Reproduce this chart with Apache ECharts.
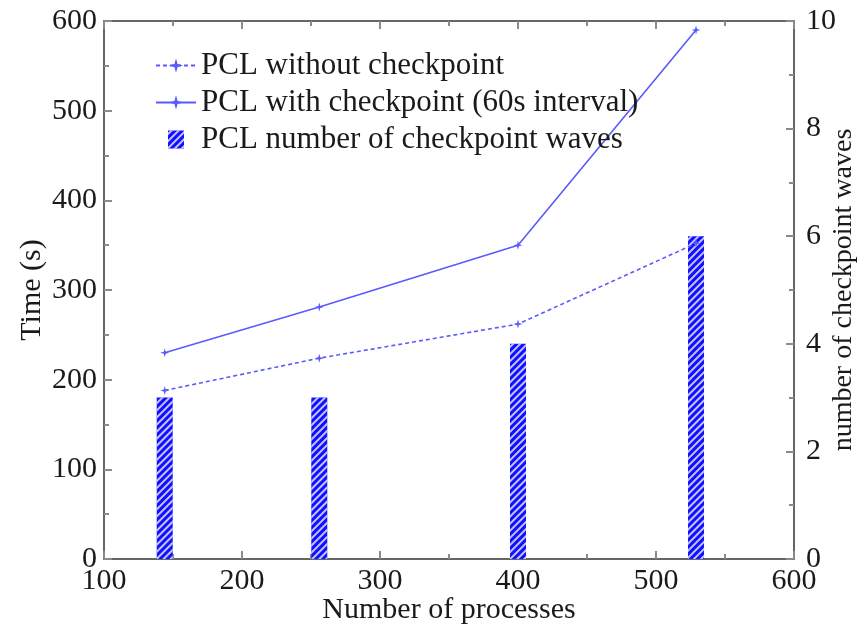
<!DOCTYPE html>
<html>
<head>
<meta charset="utf-8">
<script src="https://cdn.jsdelivr.net/npm/echarts@6/dist/echarts.min.js"></script>
<style>
html,body{margin:0;padding:0;background:#fff;}
#chart{width:859px;height:629px;}
</style>
</head>
<body>
<div id="chart"></div>
<script>
// Data
var processes = [144, 256, 400, 529];
var timeWithout = [188, 224, 262, 352];
var timeWith = [230, 281, 350, 590];
var waves = [3, 3, 4, 6];

var seriesNames = [
  'PCL without checkpoint',
  'PCL with checkpoint (60s interval)',
  'PCL number of checkpoint waves'
];

function pairs(xs, ys) {
  return xs.map(function (x, i) { return [x, ys[i]]; });
}

var FONT = 'Liberation Serif';
var TXT = '#1a1a1a';
var LINE = '#5a5aff';
var AXIS = '#666';
var TICK = '#8a8a8a';
var star = 'path://M0,-1 L0.22,-0.22 L1,0 L0.22,0.22 L0,1 L-0.22,0.22 L-1,0 L-0.22,-0.22 Z';

var chart = echarts.init(document.getElementById('chart'), null, {renderer: 'canvas'});

var baseAxis = {
  axisLine: {show: true, onZero: false, lineStyle: {color: AXIS, width: 2}},
  axisTick: {show: true, inside: true, length: 8, lineStyle: {color: TICK, width: 2}},
  minorTick: {show: true, splitNumber: 2, length: 5, lineStyle: {color: TICK, width: 2}},
  splitLine: {show: false},
  nameMoveOverlap: false,
  axisLabel: {color: TXT, fontFamily: FONT, fontSize: 30},
  nameTextStyle: {color: TXT, fontFamily: FONT, fontSize: 30}
};

function ax(extra) {
  return echarts.util.merge(echarts.util.clone(baseAxis), extra, true);
}

chart.setOption({
  animation: false,
  backgroundColor: '#fff',
  grid: {left: 104, right: 65, top: 21, bottom: 70, containLabel: false, outerBoundsMode: 'none'},
  legend: {
    orient: 'vertical',
    left: 150,
    top: 45,
    itemWidth: 40,
    itemHeight: 18,
    itemGap: 6,
    textStyle: {color: TXT, fontFamily: FONT, fontSize: 31, lineHeight: 30},
    data: [
      {name: seriesNames[0]},
      {name: seriesNames[1]},
      {name: seriesNames[2], icon: 'path://M0,0 L16,0 L16,18 L0,18 Z'}
    ]
  },
  xAxis: [
    ax({
      type: 'value', position: 'bottom', min: 100, max: 600, interval: 100,
      name: 'Number of processes', nameLocation: 'middle', nameGap: 36,
      axisLabel: {margin: 7}
    }),
    ax({
      type: 'value', position: 'top', min: 100, max: 600, interval: 100,
      axisLabel: {show: false}
    })
  ],
  yAxis: [
    ax({
      type: 'value', position: 'left', min: 0, max: 600, interval: 100,
      name: 'Time (s)', nameLocation: 'middle', nameGap: 57, nameRotate: 90,
      axisLabel: {margin: 7}
    }),
    ax({
      type: 'value', position: 'right', min: 0, max: 10, interval: 2,
      name: 'number of checkpoint waves', nameLocation: 'middle', nameGap: 36, nameRotate: 90,
      nameTextStyle: {fontSize: 28},
      axisLabel: {margin: 12}
    })
  ],
  series: [
    {
      name: seriesNames[0], type: 'line', xAxisIndex: 0, yAxisIndex: 0,
      data: pairs(processes, timeWithout),
      symbol: star, symbolSize: 9, showSymbol: true,
      lineStyle: {color: LINE, width: 1.6, type: [4, 3]},
      itemStyle: {color: LINE}
    },
    {
      name: seriesNames[1], type: 'line', xAxisIndex: 0, yAxisIndex: 0,
      data: pairs(processes, timeWith),
      symbol: star, symbolSize: 9, showSymbol: true,
      lineStyle: {color: LINE, width: 1.6},
      itemStyle: {color: LINE}
    },
    {
      name: seriesNames[2], type: 'bar', xAxisIndex: 0, yAxisIndex: 1,
      data: pairs(processes, waves),
      barWidth: 16,
      itemStyle: {
        color: '#1010ff',
        decal: {
          symbol: 'rect', symbolSize: 1,
          dashArrayX: [1, 0], dashArrayY: [2, 3],
          rotation: -Math.PI / 4,
          color: 'rgba(255,255,255,0.75)'
        }
      }
    }
  ]
});
</script>
</body>
</html>
